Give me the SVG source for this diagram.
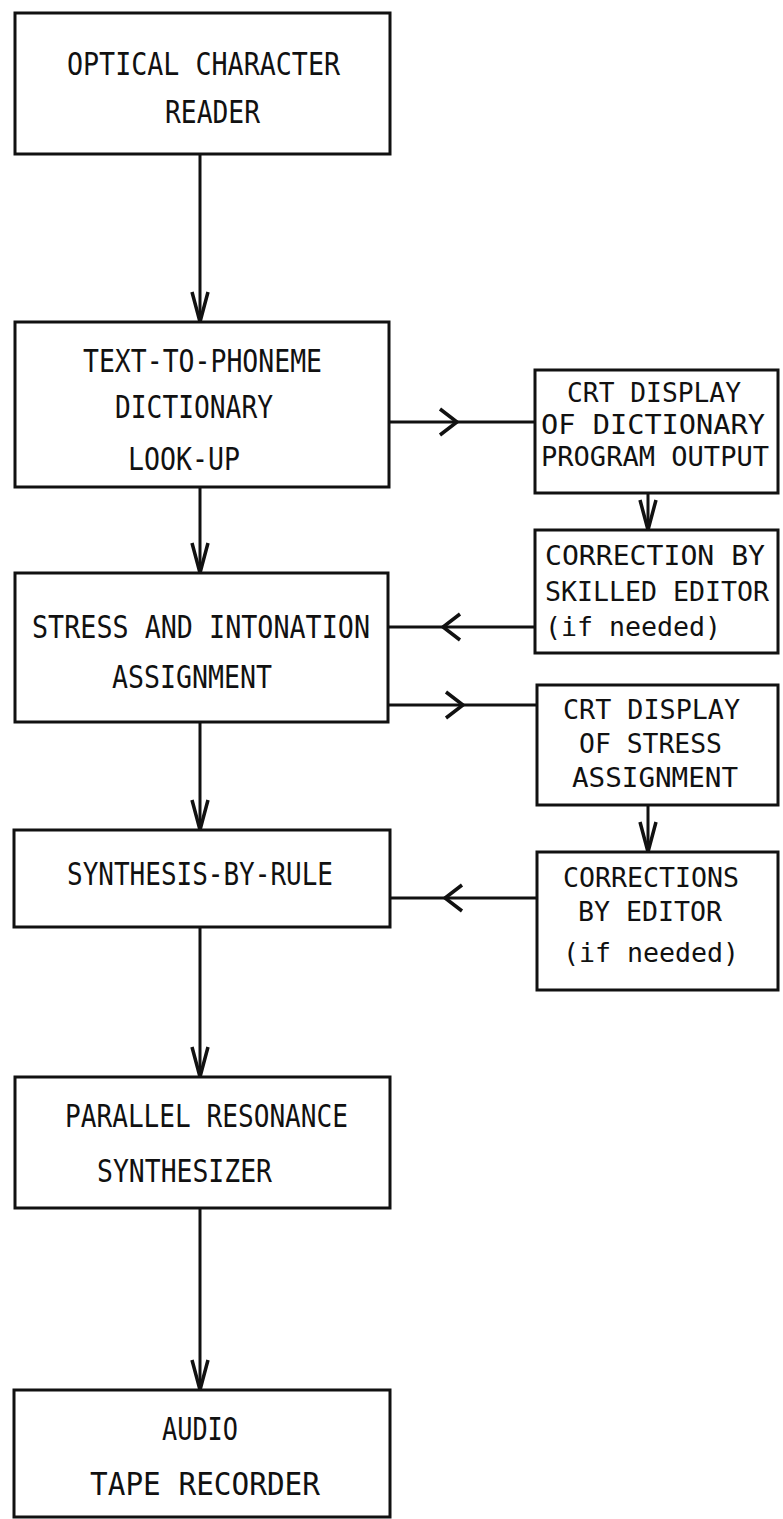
<svg xmlns="http://www.w3.org/2000/svg" width="783" height="1519" viewBox="0 0 783 1519">
<style>
.box{fill:#fff;stroke:#111;stroke-width:3}
.t{font-family:"DejaVu Sans Mono","Liberation Mono",monospace;font-size:32px;fill:#111}
.s{font-size:26px}
.c{fill:none;stroke:#111;stroke-width:3}
.v{marker-end:url(#vhead)}
.h{marker-mid:url(#chev)}
</style>
<defs>
<marker id="vhead" markerUnits="userSpaceOnUse" viewBox="-34 -14 38 28" refX="0" refY="0" markerWidth="38" markerHeight="28" orient="auto" overflow="visible">
<path d="M-30,-8 L0,0 L-30,8" fill="none" stroke="#111" stroke-width="3.5"/>
</marker>
<marker id="chev" markerUnits="userSpaceOnUse" viewBox="-22 -16 26 32" refX="0" refY="0" markerWidth="26" markerHeight="32" orient="auto" overflow="visible">
<path d="M-17,-13 L0,0 L-17,13" fill="none" stroke="#111" stroke-width="3.5"/>
</marker>
</defs>
<rect width="783" height="1519" fill="#fff"/>
<g id="connectors">
<path class="c v" d="M200,154 L200,322"/>
<path class="c v" d="M200,487 L200,573"/>
<path class="c v" d="M200,722 L200,830"/>
<path class="c v" d="M200,927 L200,1077"/>
<path class="c v" d="M200,1208 L200,1390"/>
<path class="c v" d="M648,493 L648,530"/>
<path class="c v" d="M648,805 L648,852"/>
<path class="c h" d="M388,422 L457,422 L535,422"/>
<path class="c h" d="M535,627 L443,627 L388,627"/>
<path class="c h" d="M388,705 L463,705 L537,705"/>
<path class="c h" d="M537,898 L445,898 L388,898"/>
</g>
<g id="ocr">
<rect class="box" x="15" y="13" width="375" height="141"/>
<text class="t" x="67" y="75" textLength="273" lengthAdjust="spacingAndGlyphs">OPTICAL CHARACTER</text>
<text class="t" x="165" y="123" textLength="95" lengthAdjust="spacingAndGlyphs">READER</text>
</g>
<g id="text-to-phoneme">
<rect class="box" x="15" y="322" width="374" height="165"/>
<text class="t" x="83" y="372" textLength="239" lengthAdjust="spacingAndGlyphs">TEXT-TO-PHONEME</text>
<text class="t" x="115" y="418" textLength="158" lengthAdjust="spacingAndGlyphs">DICTIONARY</text>
<text class="t" x="128" y="470" textLength="112" lengthAdjust="spacingAndGlyphs">LOOK-UP</text>
</g>
<g id="crt-dictionary">
<rect class="box" x="535" y="370" width="243" height="123"/>
<text class="t s" x="567" y="402" textLength="174" lengthAdjust="spacingAndGlyphs">CRT DISPLAY</text>
<text class="t s" x="541" y="434" textLength="224" lengthAdjust="spacingAndGlyphs">OF DICTIONARY</text>
<text class="t s" x="541" y="466" textLength="228" lengthAdjust="spacingAndGlyphs">PROGRAM OUTPUT</text>
</g>
<g id="correction-skilled">
<rect class="box" x="535" y="530" width="243" height="123"/>
<text class="t s" x="545" y="565" textLength="220" lengthAdjust="spacingAndGlyphs">CORRECTION BY</text>
<text class="t s" x="545" y="601" textLength="224" lengthAdjust="spacingAndGlyphs">SKILLED EDITOR</text>
<text class="t s" x="545" y="636" textLength="176" lengthAdjust="spacingAndGlyphs">(if needed)</text>
</g>
<g id="stress">
<rect class="box" x="15" y="573" width="373" height="149"/>
<text class="t" x="32" y="638" textLength="338" lengthAdjust="spacingAndGlyphs">STRESS AND INTONATION</text>
<text class="t" x="112" y="688" textLength="160" lengthAdjust="spacingAndGlyphs">ASSIGNMENT</text>
</g>
<g id="crt-stress">
<rect class="box" x="537" y="685" width="241" height="120"/>
<text class="t s" x="563" y="719" textLength="177" lengthAdjust="spacingAndGlyphs">CRT DISPLAY</text>
<text class="t s" x="579" y="753" textLength="143" lengthAdjust="spacingAndGlyphs">OF STRESS</text>
<text class="t s" x="572" y="787" textLength="166" lengthAdjust="spacingAndGlyphs">ASSIGNMENT</text>
</g>
<g id="synthesis">
<rect class="box" x="14" y="830" width="376" height="97"/>
<text class="t" x="67" y="885" textLength="266" lengthAdjust="spacingAndGlyphs">SYNTHESIS-BY-RULE</text>
</g>
<g id="corrections-editor">
<rect class="box" x="537" y="852" width="241" height="138"/>
<text class="t s" x="563" y="887" textLength="176" lengthAdjust="spacingAndGlyphs">CORRECTIONS</text>
<text class="t s" x="578" y="921" textLength="144" lengthAdjust="spacingAndGlyphs">BY EDITOR</text>
<text class="t s" x="563" y="962" textLength="176" lengthAdjust="spacingAndGlyphs">(if needed)</text>
</g>
<g id="parallel">
<rect class="box" x="15" y="1077" width="375" height="131"/>
<text class="t" x="65" y="1127" textLength="283" lengthAdjust="spacingAndGlyphs">PARALLEL RESONANCE</text>
<text class="t" x="97" y="1182" textLength="175" lengthAdjust="spacingAndGlyphs">SYNTHESIZER</text>
</g>
<g id="audio">
<rect class="box" x="14" y="1390" width="376" height="127"/>
<text class="t" x="162" y="1440" textLength="76" lengthAdjust="spacingAndGlyphs">AUDIO</text>
<text class="t" x="90" y="1495" textLength="230" lengthAdjust="spacingAndGlyphs">TAPE RECORDER</text>
</g>
</svg>
